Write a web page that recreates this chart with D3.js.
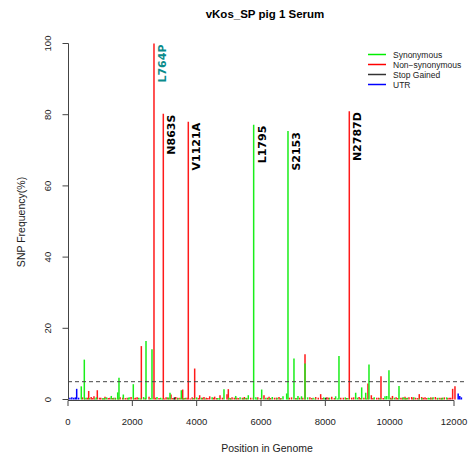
<!DOCTYPE html>
<html>
<head>
<meta charset="utf-8">
<script src="https://cdn.jsdelivr.net/npm/d3@7"></script>
<style>
  body { margin: 0; background: #fff; }
  svg { display: block; font-family: "Liberation Sans", Arial, sans-serif; }
</style>
</head>
<body>
<div id="chart"></div>
<script>
// ---- data: [genome position, SNP frequency %] ----
const nonSynonymous = [
  [2673, 100], [2963, 80.3], [3740, 78.0], [8745, 81.0],
  [643, 2.4], [808, 0.9], [911, 2.6], [1470, 0.5], [2280, 15.0], [3202, 1.4],
  [3565, 2.8], [3938, 8.7], [4093, 1.2], [4228, 0.7], [4405, 0.9], [4725, 1.2],
  [4943, 1.5], [4984, 2.9], [6093, 1.2], [7368, 12.7], [7855, 1.5], [9325, 4.5],
  [9430, 1.2], [9730, 6.5], [10087, 1.0], [10477, 0.8], [10685, 0.7], [10920, 1.5],
  [10995, 0.7], [11275, 0.6], [11958, 3.0], [12030, 3.7],
  [450, 0.6], [720, 0.7], [1020, 0.5], [1150, 0.8], [1250, 0.4], [1620, 0.6],
  [1840, 0.5], [1960, 0.7], [2150, 0.6], [2520, 0.8], [3050, 0.6], [3350, 0.7],
  [3480, 0.5], [3860, 0.6], [4300, 0.5], [4560, 0.8], [5100, 0.6], [5250, 0.5],
  [5480, 0.7], [5680, 0.5], [5900, 0.6], [6250, 0.8], [6420, 0.5], [6560, 0.7],
  [6950, 0.6], [7200, 0.5], [7520, 0.6], [7700, 0.7], [8050, 0.6], [8200, 0.8],
  [8560, 0.5], [8880, 0.6], [9050, 0.7], [9600, 0.5], [10200, 0.6], [10350, 0.5],
  [10600, 0.6], [10800, 0.5], [11100, 0.6], [11420, 0.7], [11560, 0.5], [11700, 0.6],
  [11850, 0.5],
  [520, 0.4], [600, 0.5], [760, 0.4], [980, 0.5], [1080, 0.3], [1300, 0.5],
  [1390, 0.4], [1560, 0.3], [1700, 0.5], [1780, 0.4], [2050, 0.4], [2100, 0.5],
  [2400, 0.4], [2720, 0.5], [2830, 0.4], [3000, 0.3], [3130, 0.5], [3260, 0.4],
  [3410, 0.5], [3610, 0.4], [3700, 0.5], [3800, 0.3], [4050, 0.4], [4180, 0.5],
  [4350, 0.4], [4520, 0.5], [4620, 0.4], [4800, 0.5], [5040, 0.4], [5170, 0.5],
  [5300, 0.4], [5420, 0.5], [5560, 0.4], [5760, 0.5], [5980, 0.4], [6200, 0.5],
  [6300, 0.4], [6480, 0.5], [6620, 0.4], [6880, 0.5], [7080, 0.4], [7300, 0.5],
  [7580, 0.4], [7780, 0.5], [7900, 0.4], [8100, 0.5], [8280, 0.4], [8480, 0.5],
  [8650, 0.4], [8820, 0.5], [9100, 0.4], [9200, 0.5], [9480, 0.4], [9660, 0.5],
  [9800, 0.4], [10030, 0.5], [10250, 0.4], [10400, 0.5], [10520, 0.4], [10730, 0.5],
  [10860, 0.4], [11050, 0.5], [11150, 0.4], [11320, 0.5], [11480, 0.4], [11620, 0.5],
  [11800, 0.4], [11900, 0.5]
];

const synonymous = [
  [5772, 77.2], [6839, 75.4],
  [413, 3.7], [507, 11.2], [1346, 1.0], [1545, 2.0], [1585, 6.1], [1720, 1.4],
  [2030, 4.3], [2425, 16.4], [2611, 14.1], [2766, 0.7], [3171, 1.9], [3523, 2.6],
  [4849, 2.9], [5214, 1.0], [5605, 1.2], [6021, 2.8], [6684, 0.9], [6798, 1.7],
  [7025, 11.5], [7150, 1.0], [7260, 0.9], [7368, 10.1], [8320, 0.9], [8424, 12.2],
  [8943, 1.9], [9130, 3.4], [9255, 1.9], [9357, 9.8], [9855, 0.9], [9910, 1.0],
  [9978, 8.2], [10290, 3.8], [11774, 0.6],
  [560, 0.5], [880, 0.6], [1090, 0.4], [1200, 0.6], [1420, 0.5], [1900, 0.6],
  [2200, 0.5], [2350, 0.7], [2880, 0.5], [3100, 0.6], [3420, 0.4], [3650, 0.5],
  [4000, 0.6], [4150, 0.5], [4480, 0.6], [4650, 0.4], [5000, 0.5], [5350, 0.6],
  [5530, 0.5], [5840, 0.6], [6150, 0.5], [6350, 0.7], [6500, 0.5], [7450, 0.6],
  [7620, 0.5], [7950, 0.6], [8130, 0.5], [8620, 0.6], [9000, 0.5], [9520, 0.6],
  [10150, 0.5], [10420, 0.6], [10550, 0.5], [10750, 0.6], [11000, 0.4], [11200, 0.5],
  [11350, 0.6], [11500, 0.5], [11650, 0.5],
  [670, 0.4], [840, 0.3], [1130, 0.4], [1480, 0.3], [1870, 0.4], [2250, 0.3],
  [2560, 0.4], [2930, 0.3], [3300, 0.4], [3580, 0.3], [3900, 0.4], [4260, 0.3],
  [4700, 0.4], [5060, 0.3], [5450, 0.4], [5880, 0.3], [6260, 0.4], [6600, 0.3],
  [7120, 0.4], [7680, 0.3], [8000, 0.4], [8380, 0.3], [8700, 0.4], [9280, 0.3],
  [9700, 0.4], [10060, 0.3], [10480, 0.4], [10900, 0.3], [11250, 0.4], [11600, 0.3]
];

const stopGained = [[3310, 0.6], [8010, 0.5]];

const utr = [
  [60, 0.5], [120, 0.6], [180, 0.5], [230, 0.6], [270, 3.0], [330, 0.5],
  [12130, 1.7], [12180, 1.0], [12230, 0.6]
];

// labelled mutations
const mutLabels = [
  { pos: 2673, freq: 100, text: "L764P", color: "#0b8b8b" },
  { pos: 2963, freq: 80.3, text: "N863S", color: "#000" },
  { pos: 3740, freq: 78.0, text: "V1121A", color: "#000" },
  { pos: 5772, freq: 77.2, text: "L1795", color: "#000" },
  { pos: 6839, freq: 75.4, text: "S2153", color: "#000" },
  { pos: 8745, freq: 81.0, text: "N2787D", color: "#000" }
];

const xTicks = [0, 2000, 4000, 6000, 8000, 10000, 12000];
const yTicks = [0, 20, 40, 60, 80, 100];
const threshold = 5;

const legendItems = [
  { label: "Synonymous", color: "#00ee00" },
  { label: "Non\u2212synonymous", color: "#ff0000" },
  { label: "Stop Gained", color: "#333" },
  { label: "UTR", color: "#0000ff" }
];

// ---- drawing ----
const W = 472, H = 462;
const svg = d3.select("#chart").append("svg").attr("width", W).attr("height", H);

const x = d3.scaleLinear().domain([0, 12000]).range([68, 454]);
const y = d3.scaleLinear().domain([0, 100]).range([399.5, 43.5]);

// title
svg.append("text")
  .attr("x", 265).attr("y", 18)
  .attr("text-anchor", "middle")
  .attr("font-weight", "bold").attr("font-size", "11.5px")
  .text("vKos_SP pig 1 Serum");

// bars (type="h")
function drawBars(data, color) {
  svg.append("g").selectAll("line").data(data).join("line")
    .attr("x1", d => x(d[0])).attr("x2", d => x(d[0]))
    .attr("y1", y(0)).attr("y2", d => y(d[1]))
    .attr("stroke", color).attr("stroke-width", 1.5);
}
drawBars(nonSynonymous, "#ff1a1a");
drawBars(synonymous, "#1aee1a");
drawBars(stopGained, "#222");
drawBars(utr, "#0000ff");

// threshold line
svg.append("line")
  .attr("x1", 68).attr("x2", 466)
  .attr("y1", y(threshold)).attr("y2", y(threshold))
  .attr("stroke", "#444").attr("stroke-width", 1)
  .attr("stroke-dasharray", "4,3");

// labels
svg.append("g").selectAll("text").data(mutLabels).join("text")
  .attr("transform", d => `translate(${x(d.pos) + 12},${y(d.freq) + 1}) rotate(-90)`)
  .attr("text-anchor", "end")
  .attr("font-family", "DejaVu Sans, sans-serif")
  .attr("font-weight", "bold").attr("font-size", "11px")
  .attr("fill", d => d.color)
  .text(d => d.text);

// x axis
const xAxis = svg.append("g").attr("stroke", "#444");
xAxis.append("line").attr("x1", x(0)).attr("x2", x(12000))
  .attr("y1", 400.5).attr("y2", 400.5);
xAxis.selectAll(".t").data(xTicks).join("line")
  .attr("x1", d => x(d)).attr("x2", d => x(d))
  .attr("y1", 400.5).attr("y2", 406);
svg.append("g").selectAll("text").data(xTicks).join("text")
  .attr("x", d => x(d)).attr("y", 425)
  .attr("text-anchor", "middle").attr("font-size", "9.5px").attr("fill", "#222")
  .text(d => d);

// y axis
const yAxis = svg.append("g").attr("stroke", "#444");
yAxis.append("line").attr("x1", 68.5).attr("x2", 68.5)
  .attr("y1", y(0)).attr("y2", y(100));
yAxis.selectAll(".t").data(yTicks).join("line")
  .attr("x1", 62.5).attr("x2", 68.5)
  .attr("y1", d => y(d)).attr("y2", d => y(d));
svg.append("g").selectAll("text").data(yTicks).join("text")
  .attr("transform", d => `translate(51,${y(d)}) rotate(-90)`)
  .attr("text-anchor", "middle").attr("font-size", "9.5px").attr("fill", "#222")
  .text(d => d);

// axis titles
svg.append("text")
  .attr("x", 267).attr("y", 452)
  .attr("text-anchor", "middle").attr("font-size", "10.5px").attr("fill", "#222")
  .text("Position in Genome");
svg.append("text")
  .attr("transform", `translate(25,222) rotate(-90)`)
  .attr("text-anchor", "middle").attr("font-size", "10.5px").attr("fill", "#222")
  .text("SNP Frequency(%)");

// legend
const lg = svg.append("g").selectAll("g").data(legendItems).join("g")
  .attr("transform", (d, i) => `translate(368,${54.5 + i * 10})`);
lg.append("line").attr("x1", 0).attr("x2", 18)
  .attr("stroke", d => d.color).attr("stroke-width", 1.5);
lg.append("text").attr("x", 25).attr("y", 3)
  .attr("font-size", "8.5px").attr("fill", "#222")
  .text(d => d.label);
</script>
</body>
</html>
